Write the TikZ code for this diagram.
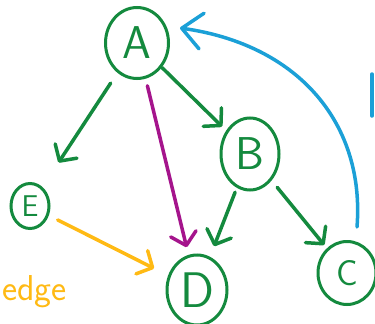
\documentclass[tikz,border=0pt]{standalone}
\usetikzlibrary{arrows.meta,shapes.geometric,calc}
\definecolor{gr}{RGB}{20,138,62}
\definecolor{bl}{RGB}{27,160,215}
\definecolor{pu}{RGB}{165,20,140}
\definecolor{orng}{RGB}{255,186,20}
\begin{document}
\begin{tikzpicture}[x=1pt,y=-1pt,
  vtx/.style={draw=gr,ellipse,line width=3pt,inner sep=0pt,text=gr},
  conn/.style={line width=3.5pt,line cap=round,line join=round,
    -{Straight Barb[length=12pt,width=26pt,line cap=round,line join=round]}},
]
\useasboundingbox (0,0) rectangle (375,324);
\fill[white] (0,0) rectangle (375,324);
\node[vtx,minimum width=63pt,minimum height=71pt,font=\sffamily\fontsize{46}{46}\selectfont] (A) at (137,43) {A};
\node[vtx,minimum width=58pt,minimum height=72pt,font=\sffamily\fontsize{46}{46}\selectfont] (B) at (250,154) {B};
\node[vtx,minimum width=38pt,minimum height=45pt,font=\sffamily\fontsize{30}{30}\selectfont] (E) at (30,206) {E};
\node[vtx,minimum width=60pt,minimum height=70pt,font=\sffamily\fontsize{50}{50}\selectfont] (D) at (197,290) {D};
\node[vtx,minimum width=58pt,minimum height=63pt,font=\sffamily\fontsize{36}{36}\selectfont] (C) at (347,273) {C};
\node[text=orng,font=\sffamily\fontsize{36}{36}\selectfont,anchor=base west,inner sep=0pt] (lbl) at (2,300) {edge};

\draw[conn,gr,shorten <=48pt,shorten >=52pt] (A.center) -- (E.center);
\draw[conn,gr,shorten <=35pt,shorten >=39pt] (A.center) -- (B.center);
\draw[conn,pu,shorten <=44pt,shorten >=44pt] (A.center) -- (D.center);
\draw[conn,gr,shorten <=41pt,shorten >=47pt] (B.center) -- (D.center);
\draw[conn,gr,shorten <=43pt,shorten >=36pt] (B.center) -- (C.center);
\draw[conn,orng,shorten <=31pt,shorten >=48pt] (E.center) -- (D.center);
\draw[conn,bl,-{Straight Barb[length=20pt,width=36pt,line cap=round,line join=round]}]
  ($(C.center)+(10,-46)$) .. controls (365,125) and (300,45) .. ($(A.center)+(43,-15)$);
\coordinate (m1) at (372,74);
\coordinate (m2) at (372,116);
\draw[bl,line width=3.5pt,line cap=round] (m1) -- (m2);
\end{tikzpicture}
\end{document}
